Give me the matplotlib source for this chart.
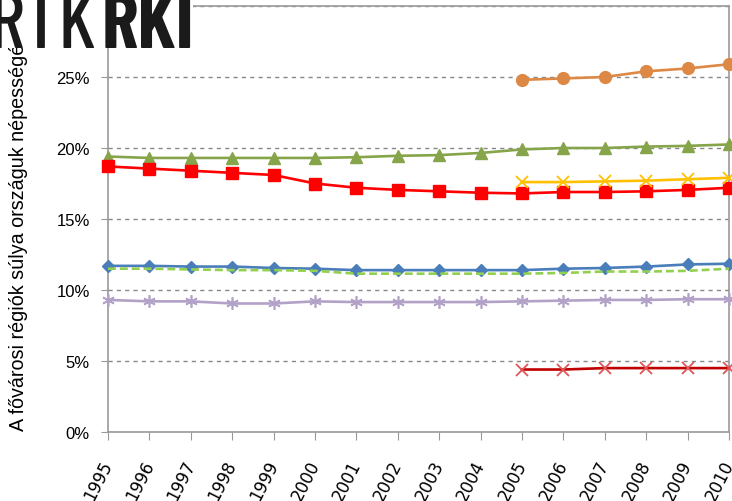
import matplotlib
matplotlib.use("Agg")
import matplotlib.pyplot as plt
from matplotlib.patches import Rectangle
from matplotlib.ticker import PercentFormatter

years = list(range(1995, 2011))
years_late = list(range(2005, 2011))

# share of the capital region in the national population (%)
orange_circ = [24.8, 24.9, 25.0, 25.4, 25.6, 25.9]
green_tri = [19.4, 19.3, 19.3, 19.3, 19.3, 19.3, 19.35, 19.45, 19.5, 19.65,
             19.9, 20.0, 20.0, 20.1, 20.15, 20.25]
red_sq = [18.7, 18.55, 18.4, 18.25, 18.1, 17.5, 17.2, 17.05, 16.95, 16.85,
          16.8, 16.9, 16.9, 16.95, 17.05, 17.2]
yellow_x = [17.6, 17.6, 17.65, 17.7, 17.8, 17.9]
blue_dia = [11.7, 11.7, 11.65, 11.65, 11.55, 11.5, 11.4, 11.4, 11.4, 11.4,
            11.4, 11.5, 11.55, 11.65, 11.8, 11.85]
green_dash = [11.5, 11.5, 11.45, 11.4, 11.4, 11.35, 11.15, 11.15, 11.15, 11.15,
              11.15, 11.2, 11.3, 11.3, 11.35, 11.5]
lilac_star = [9.3, 9.2, 9.2, 9.05, 9.05, 9.2, 9.15, 9.15, 9.15, 9.15,
              9.2, 9.25, 9.3, 9.3, 9.35, 9.35]
darkred_x = [4.4, 4.4, 4.5, 4.5, 4.5, 4.5]

ylabel = "A fővárosi régiók súlya országuk népességében"

W, H = 732, 502
fig = plt.figure(figsize=(W / 100, H / 100), dpi=100)
ax = fig.add_axes([108 / W, 69 / H, 621 / W, 426 / H])

kw = dict(linewidth=1.9, clip_on=False, zorder=3)
ax.plot(years_late, orange_circ, "-o", color="#DD8844", markersize=8.5, **kw)
ax.plot(years, green_tri, "-^", color="#86A44A", markersize=8.5, **kw)
ax.plot(years, red_sq, "-s", color="#FF0000", markersize=8, **kw)
ax.plot(years_late, yellow_x, "-x", color="#FFC000", markersize=9,
        markeredgewidth=1.3, **kw)
ax.plot(years, blue_dia, "-D", color="#4A7EBB", markersize=6.5, **kw)
ax.plot(years, green_dash, "--", color="#92D050", dashes=(3, 1.5), **kw)
ax.plot(years, lilac_star, "-", marker=(6, 2, 0), color="#B3A2C7",
        markersize=9, markeredgewidth=1.2, **kw)
ax.plot(years_late, darkred_x, "-x", color="#C00000", markeredgecolor="#E05555",
        markersize=9, markeredgewidth=1.3, **kw)

ax.set_xlim(1995, 2010)
ax.set_ylim(0, 30)
ax.set_yticks(range(0, 35, 5))
ax.yaxis.set_major_formatter(PercentFormatter(decimals=0))
ax.set_xticks(years)
ax.set_xticklabels([str(y) for y in years], rotation=63, ha="right",
                   rotation_mode="anchor", va="center", fontsize=12,
                   family="DejaVu Sans")
for lab in ax.get_yticklabels():
    lab.set_fontfamily("Liberation Sans")
    lab.set_fontsize(12)

ax.grid(axis="y", color="#888888", linestyle=(0, (3, 3)), linewidth=1)
ax.set_axisbelow(True)
for s in ax.spines.values():
    s.set_color("#999999")
    s.set_linewidth(1.2)
ax.tick_params(axis="y", length=5, color="#999999", pad=8)
ax.tick_params(axis="x", length=6, color="#999999", pad=15)

fig.text(19 / W, (H - 431) / H, ylabel, rotation=90, ha="center", va="bottom",
         fontsize=14.2, family="Liberation Sans")

# cropped logo in the top-left corner
fig.add_artist(Rectangle((0, (H - 49) / H), 193 / W, 49 / H,
                         transform=fig.transFigure, facecolor="white",
                         edgecolor="none", zorder=10))
fig.text(96 / W, (H - 48) / H, "RTK", ha="right", va="baseline", fontsize=57,
         family="Barlow Condensed", fontweight=500, color="#1a1a1a", zorder=11)
fig.text(194 / W, (H - 48) / H, "RKI", ha="right", va="baseline", fontsize=56,
         family="Barlow Condensed", fontweight="bold", color="#1a1a1a",
         zorder=11)

fig.savefig("out.png", dpi=100)
